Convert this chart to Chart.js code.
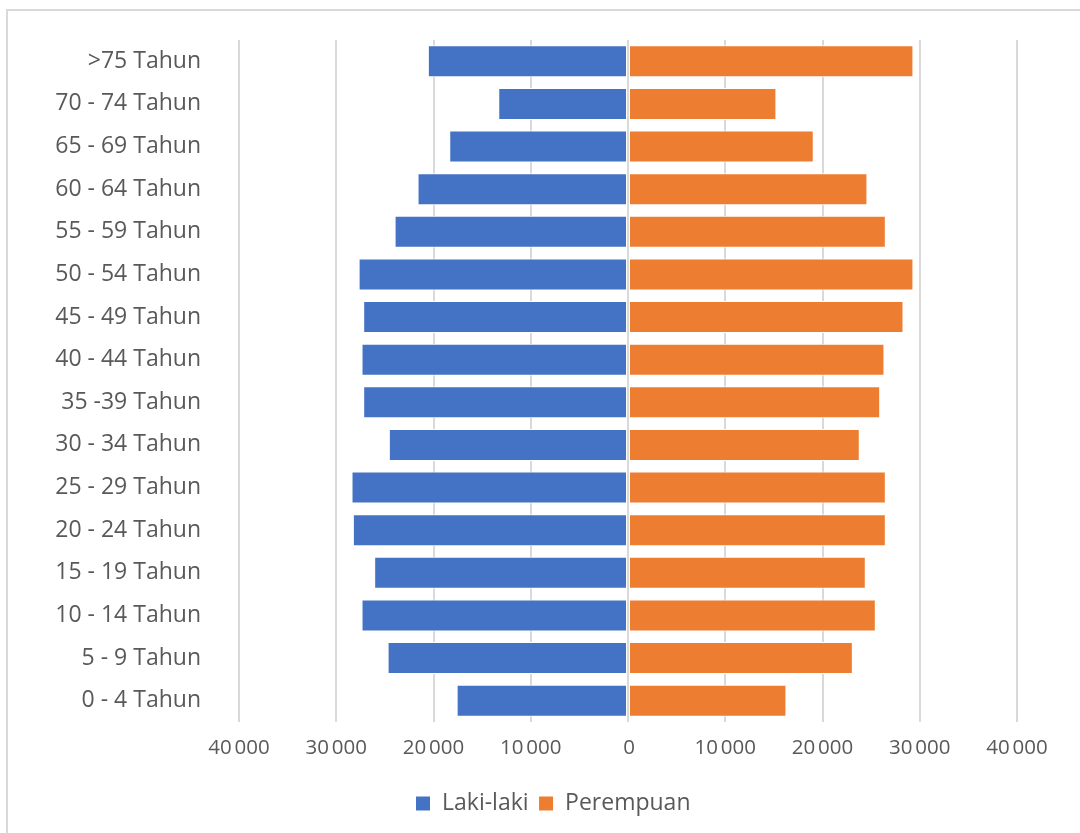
<!DOCTYPE html>
<html>
<head>
<meta charset="utf-8">
<title>Piramida Penduduk</title>
<script src="https://cdn.jsdelivr.net/npm/chart.js@4.4.1/dist/chart.umd.min.js"></script>
<style>
  html, body { margin: 0; padding: 0; background: #ffffff; }
  #wrap { position: relative; width: 1080px; height: 833px; overflow: hidden; }
  #frame { position: absolute; left: 6px; top: 9px; width: 1200px; height: 1000px;
           border: 2px solid #d9d9d9; box-sizing: border-box; }
  #chart { position: absolute; left: 0; top: 0; }
</style>
</head>
<body>
<div id="wrap">
  <div id="frame"></div>
  <canvas id="chart" width="1080" height="833"></canvas>
</div>
<script>
// Age groups, youngest first (the y axis is reversed so the oldest sits on top)
const ageGroups = [
  '0 - 4 Tahun', '5 - 9 Tahun', '10 - 14 Tahun', '15 - 19 Tahun',
  '20 - 24 Tahun', '25 - 29 Tahun', '30 - 34 Tahun', '35 -39 Tahun',
  '40 - 44 Tahun', '45 - 49 Tahun', '50 - 54 Tahun', '55 - 59 Tahun',
  '60 - 64 Tahun', '65 - 69 Tahun', '70 - 74 Tahun', '>75 Tahun'
];

// Population counts per age group
const lakiLaki = [
  17620, 24720, 27400, 26100, 28290, 28430, 24590, 27230,
  27400, 27230, 27700, 24000, 21640, 18380, 13340, 20580
];
const perempuan = [
  16290, 23120, 25480, 24450, 26510, 26510, 23830, 25930,
  26370, 28330, 29350, 26510, 24620, 19100, 15260, 29350
];

// Axis range and tick step
const axisMin = -40000;
const axisMax = 40000;
const axisStep = 10000;

const seriesNames = ['Laki-laki', 'Perempuan'];
const seriesColors = ['#4472C4', '#ED7D31'];

const textColor = '#595959';
const gridColor = '#d9d9d9';

// "40 000" style labels, shown without sign on both sides
function formatTick(v) {
  const n = Math.abs(Math.round(v));
  return n.toString().replace(/\B(?=(\d{3})+(?!\d))/g, '\u202F');
}

// Lets the category labels extend left of the axis box, and draws the
// value labels slightly condensed.
const axisTweaks = {
  id: 'axisTweaks',
  afterLayout(chart) {
    chart.scales.y.left = 0;
    const sx = chart.scales.x;
    if (!sx._condensed) {
      const orig = sx.drawLabels;
      sx.drawLabels = function (area) {
        const c = this.ctx;
        c.save();
        if ('letterSpacing' in c) c.letterSpacing = '-2px';
        orig.call(this, area);
        c.restore();
      };
      sx._condensed = true;
    }
  }
};

new Chart(document.getElementById('chart'), {
  type: 'bar',
  data: {
    labels: ageGroups,
    datasets: [
      {
        label: seriesNames[0],
        data: lakiLaki.map(v => -v),
        backgroundColor: seriesColors[0],
        borderColor: '#ffffff',
        borderWidth: 1,
        borderSkipped: false,
        barPercentage: 0.75,
        categoryPercentage: 1.0
      },
      {
        label: seriesNames[1],
        data: perempuan,
        backgroundColor: seriesColors[1],
        borderColor: '#ffffff',
        borderWidth: 1,
        borderSkipped: false,
        barPercentage: 0.75,
        categoryPercentage: 1.0
      }
    ]
  },
  plugins: [axisTweaks],
  options: {
    indexAxis: 'y',
    responsive: false,
    animation: false,
    layout: { padding: { top: 40, left: 89, right: 63, bottom: 8 } },
    scales: {
      x: {
        stacked: true,
        min: axisMin,
        max: axisMax,
        border: { display: false },
        grid: { color: gridColor, lineWidth: 2, drawTicks: false },
        ticks: {
          stepSize: axisStep,
          padding: 14,
          color: textColor,
          maxRotation: 0,
          font: { family: "'Open Sans', sans-serif", size: 20.5 },
          callback: v => formatTick(v)
        },
        afterFit: s => { s.height = 60; s.paddingLeft = 0; s.paddingRight = 0; }
      },
      y: {
        stacked: true,
        reverse: true,
        border: { display: false },
        grid: { display: false, drawTicks: false },
        ticks: {
          padding: 38,
          color: textColor,
          font: { family: "'Open Sans', sans-serif", size: 23 }
        },
        afterFit: s => { s.width = 150; s.paddingTop = 0; s.paddingBottom = 0; }
      }
    },
    plugins: {
      legend: {
        position: 'bottom',
        labels: {
          color: textColor,
          boxWidth: 15,
          boxHeight: 15,
          padding: 10,
          font: { family: "'Open Sans', sans-serif", size: 23 }
        }
      },
      tooltip: { enabled: false }
    }
  }
});
</script>
</body>
</html>
